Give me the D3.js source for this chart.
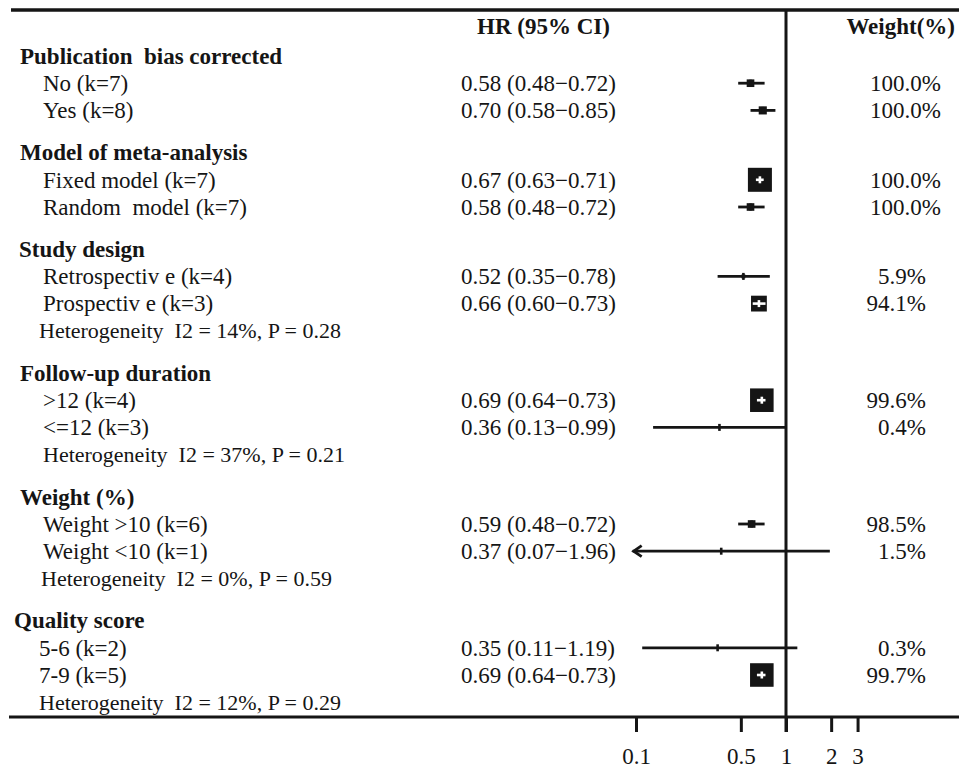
<!DOCTYPE html>
<html>
<head>
<meta charset="utf-8">
<script src="https://cdn.jsdelivr.net/npm/d3@7/dist/d3.min.js"></script>
<style>
  html, body { margin: 0; padding: 0; background: #fff; }
  svg text { font-family: "Liberation Serif", "Times New Roman", serif; fill: #151515; white-space: pre; }
</style>
</head>
<body>
<svg id="chart" width="959" height="772"></svg>
<script>
// ---------------- data ----------------
const groupTitles = ["Publication  bias corrected", "Model of meta-analysis", "Study design",
                     "Follow-up duration", "Weight (%)", "Quality score"];
const itemLabels = [
  ["No (k=7)", "Yes (k=8)"],
  ["Fixed model (k=7)", "Random  model (k=7)"],
  ["Retrospectiv e (k=4)", "Prospectiv e (k=3)"],
  [">12 (k=4)", "<=12 (k=3)"],
  ["Weight >10 (k=6)", "Weight <10 (k=1)"],
  ["5-6 (k=2)", "7-9 (k=5)"]
];
const hrEst  = [[0.58, 0.70], [0.67, 0.58], [0.52, 0.66], [0.69, 0.36], [0.59, 0.37], [0.35, 0.69]];
const ciLow  = [[0.48, 0.58], [0.63, 0.48], [0.35, 0.60], [0.64, 0.13], [0.48, 0.07], [0.11, 0.64]];
const ciHigh = [[0.72, 0.85], [0.71, 0.72], [0.78, 0.73], [0.73, 0.99], [0.72, 1.96], [1.19, 0.73]];
const weightPct = [["100.0%", "100.0%"], ["100.0%", "100.0%"], ["5.9%", "94.1%"],
                   ["99.6%", "0.4%"], ["98.5%", "1.5%"], ["0.3%", "99.7%"]];
const heterogeneity = [null, null,
  "Heterogeneity  I2 = 14%, P = 0.28",
  "Heterogeneity  I2 = 37%, P = 0.21",
  "Heterogeneity  I2 = 0%, P = 0.59",
  "Heterogeneity  I2 = 12%, P = 0.29"];
const axisTicks = [0.1, 0.5, 1, 2, 3];
const headerHR = "HR (95% CI)";
const headerWeight = "Weight(%)";

// ---------------- layout ----------------
const svg = d3.select("#chart");
const W = 959;
const x = d3.scaleLog().domain([0.1, 1]).range([636, 786]);
const xClipMin = 0.095;
const rowUnit = 27.2, groupGap = 15, firstY = 56;
const topY = 10, axisY = 717, tickLen = 15;
const fsMain = 23, fsHet = 22;
const boxSize = d3.scaleLinear().domain([0, 1]).range([0, 3.1]); // precision -> px
const maxBox = 24;
const groupX = [20, 20, 19, 20, 20, 14];
const itemX  = [43, 43, 43, 43, 43, 39];
const hetX   = [0, 0, 39, 43, 41, 39];

// build rows
const rows = [];
let line = 0;
groupTitles.forEach((g, gi) => {
  const yAt = () => firstY + line * rowUnit + gi * groupGap;
  rows.push({type: "group", gi, y: yAt(), text: g}); line++;
  itemLabels[gi].forEach((lab, ii) => {
    rows.push({type: "item", gi, ii, y: yAt(), text: lab,
      hr: hrEst[gi][ii], lo: ciLow[gi][ii], hi: ciHigh[gi][ii], w: weightPct[gi][ii]});
    line++;
  });
  if (heterogeneity[gi]) { rows.push({type: "het", gi, y: yAt(), text: heterogeneity[gi]}); line++; }
});

// rules
svg.append("line").attr("x1", 11).attr("x2", W).attr("y1", topY).attr("y2", topY)
  .attr("stroke", "#151515").attr("stroke-width", 3.5);
svg.append("line").attr("x1", 9).attr("x2", W).attr("y1", axisY).attr("y2", axisY)
  .attr("stroke", "#151515").attr("stroke-width", 3);
// reference line at HR = 1
svg.append("line").attr("x1", x(1)).attr("x2", x(1)).attr("y1", topY).attr("y2", axisY + tickLen)
  .attr("stroke", "#151515").attr("stroke-width", 3);

// axis ticks
const axis = d3.axisBottom(x).tickValues(axisTicks).tickSize(tickLen).tickPadding(16)
  .tickFormat(d => String(d));
const ag = svg.append("g").attr("transform", `translate(0,${axisY})`).call(axis);
ag.select(".domain").remove();
ag.selectAll(".tick line").attr("stroke", "#151515").attr("stroke-width", 3);
ag.selectAll(".tick text").attr("font-size", fsMain).attr("font-family", "Liberation Serif")
  .attr("fill", "#151515");

// headers
svg.append("text").attr("x", 477).attr("y", 34).attr("font-size", fsMain).attr("font-weight", "bold").text(headerHR);
svg.append("text").attr("x", 955).attr("y", 34).attr("text-anchor", "end").attr("font-size", fsMain)
  .attr("font-weight", "bold").text(headerWeight);

// text rows
const tg = svg.append("g");
rows.forEach(r => {
  if (r.type === "group") {
    tg.append("text").attr("x", groupX[r.gi]).attr("y", r.y).attr("dy", "0.34em")
      .attr("font-size", fsMain).attr("font-weight", "bold").text(r.text);
  } else if (r.type === "het") {
    tg.append("text").attr("x", hetX[r.gi]).attr("y", r.y).attr("dy", "0.34em")
      .attr("font-size", fsHet).text(r.text);
  } else {
    tg.append("text").attr("x", itemX[r.gi]).attr("y", r.y).attr("dy", "0.34em")
      .attr("font-size", fsMain).text(r.text);
    tg.append("text").attr("x", 461).attr("y", r.y).attr("dy", "0.34em").attr("font-size", fsMain)
      .text(`${r.hr.toFixed(2)} (${r.lo.toFixed(2)}\u2212${r.hi.toFixed(2)})`);
    tg.append("text").attr("x", r.gi < 2 ? 941 : 926).attr("y", r.y).attr("dy", "0.34em")
      .attr("text-anchor", "end").attr("font-size", fsMain).text(r.w);
  }
});

// forest marks
const mg = svg.append("g");
rows.filter(r => r.type === "item").forEach(r => {
  const cx = x(r.hr);
  const clipped = r.lo < xClipMin;
  const x1 = clipped ? x(xClipMin) : x(r.lo);
  const x2 = x(r.hi);
  const s = Math.min(maxBox, boxSize(1 / Math.log(r.hi / r.lo)));
  // CI line
  mg.append("line").attr("x1", x1).attr("x2", x2).attr("y1", r.y).attr("y2", r.y)
    .attr("stroke", "#151515").attr("stroke-width", 2.8);
  if (clipped) {
    mg.append("path")
      .attr("d", `M${x1 + 9},${r.y - 5.5} L${x1 + 1},${r.y} L${x1 + 9},${r.y + 5.5}`)
      .attr("fill", "none").attr("stroke", "#151515").attr("stroke-width", 2.8);
  }
  // box
  const inside = x(r.lo) >= cx - s / 2 && x2 <= cx + s / 2;
  mg.append("rect").attr("x", cx - s / 2).attr("y", r.y - s / 2).attr("width", s).attr("height", s)
    .attr("fill", "#151515");
  if (inside) {
    mg.append("line").attr("x1", x(r.lo)).attr("x2", x2).attr("y1", r.y).attr("y2", r.y)
      .attr("stroke", "#fff").attr("stroke-width", 2.6);
  }
  // point tick
  mg.append("line").attr("x1", cx).attr("x2", cx).attr("y1", r.y - 3.5).attr("y2", r.y + 3.5)
    .attr("stroke", inside ? "#fff" : "#151515").attr("stroke-width", 2.6);
});
</script>
</body>
</html>
